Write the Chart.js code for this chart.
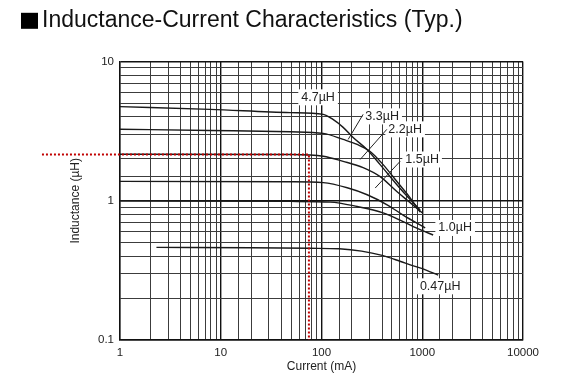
<!DOCTYPE html>
<html>
<head>
<meta charset="utf-8">
<script src="https://cdn.jsdelivr.net/npm/chart.js@4.4.1/dist/chart.umd.min.js"></script>
<style>
  body { margin: 0; background: #fff; }
</style>
</head>
<body>
<canvas id="lcChart" width="562" height="387"></canvas>
<script>
// values (current in mA, inductance in uH)
const curr47 = [1, 7.8, 49, 104, 130, 164, 206, 284, 382, 563, 759, 953];
const ind47 = [4.75, 4.54, 4.3, 4.18, 3.84, 3.37, 2.85, 2.33, 1.82, 1.30, 1.02, 0.86];
const curr33 = [1, 7.8, 49, 104, 164, 226, 304, 409, 563, 759, 953];
const ind33 = [3.27, 3.2, 3.13, 3.05, 2.76, 2.54, 2.26, 1.82, 1.37, 1.05, 0.83];
const curr22 = [1, 49, 104, 164, 259, 382, 563, 759, 997];
const ind22 = [2.16, 2.15, 2.09, 1.92, 1.73, 1.49, 1.16, 0.97, 0.82];
const curr15 = [1, 49, 104, 180, 284, 448, 646, 1069];
const ind15 = [1.38, 1.37, 1.35, 1.24, 1.105, 0.936, 0.79, 0.64];
const curr10 = [1, 49, 122, 226, 409, 646, 953, 1283];
const ind10 = [1.0, 0.99, 0.979, 0.91, 0.819, 0.709, 0.62, 0.568];
const curr047 = [2.3, 20, 77, 150, 250, 400, 600, 800, 1000, 1440];
const ind047 = [0.463, 0.46, 0.456, 0.452, 0.435, 0.405, 0.368, 0.342, 0.326, 0.292];

// red guide (dotted) : operating point
const guideX = [0.168, 75, 75];
const guideY = [2.15, 2.15, 0.1];

// leader lines from labels to curves
const leaderX = [[259, 184], [445, 242], [603, 341]];
const leaderY = [[4.18, 2.76], [3.26, 1.98], [1.92, 1.235]];

// curve labels
const labelText = ['4.7\u00B5H', '3.3\u00B5H', '2.2\u00B5H', '1.5\u00B5H', '1.0\u00B5H', '0.47\u00B5H'];
const labelX = [92.5, 400, 676, 997, 2122, 1506];
const labelY = [5.54, 4.04, 3.26, 1.98, 0.638, 0.243];

const xTickLabels = ['1', '10', '100', '1000', '10000'];
const yTickLabels = ['0.1', '1', '10'];

const FONT = "'Liberation Sans', Arial, sans-serif";

function pts(xs, ys) {
	return xs.map((x, i) => ({ x: x, y: ys[i] }));
}

function curve(xs, ys) {
	return {
		data: pts(xs, ys),
		borderColor: '#1a1a1a',
		borderWidth: 1.4,
		pointRadius: 0,
		cubicInterpolationMode: 'monotone',
		order: 3
	};
}

function tickText(list) {
	return function (value) {
		const hit = list.find(s => Math.abs(Number(s) - value) < 1e-9 * Math.max(1, value));
		return hit === undefined ? '' : hit;
	};
}

const curveLabels = {
	id: 'curveLabels',
	beforeDatasetsDraw(chart) {
		const ctx = chart.ctx;
		const xs = chart.scales.x, ys = chart.scales.y;
		ctx.save();
		ctx.font = '12.5px ' + FONT;
		ctx.textAlign = 'center';
		ctx.textBaseline = 'middle';
		labelText.forEach((t, i) => {
			const px = xs.getPixelForValue(labelX[i]);
			const py = ys.getPixelForValue(labelY[i]);
			const w = ctx.measureText(t).width;
			ctx.fillStyle = '#fff';
			ctx.fillRect(px - w / 2 - 3, py - 8, w + 6, 16);
			ctx.fillStyle = '#222';
			ctx.fillText(t, px, py);
		});
		ctx.restore();
	},
	afterDraw(chart) {
		// black square bullet in front of the title
		const tb = chart.titleBlock;
		const cy = tb.top + 7 + 13.8;
		chart.ctx.save();
		chart.ctx.fillStyle = '#000';
		chart.ctx.fillRect(tb.left - 21, cy - 8, 17, 16);
		chart.ctx.restore();
	}
};

const gridColor = (c) => (c.tick && c.tick.major ? '#111' : '#3c3c3c');
const gridWidth = (c) => (c.tick && c.tick.major ? 1.4 : 1);

const datasets = [
	curve(curr47, ind47),
	curve(curr33, ind33),
	curve(curr22, ind22),
	curve(curr15, ind15),
	curve(curr10, ind10),
	curve(curr047, ind047)
];
leaderX.forEach((lx, i) => {
	datasets.push({
		data: pts(lx, leaderY[i]),
		borderColor: '#222',
		borderWidth: 1,
		pointRadius: 0,
		order: 2
	});
});
datasets.push({
	data: pts(guideX, guideY),
	borderColor: '#c00000',
	borderWidth: 2,
	borderDash: [2, 2],
	pointRadius: 0,
	clip: false,
	order: 1
});

new Chart(document.getElementById('lcChart'), {
	type: 'line',
	data: { datasets: datasets },
	plugins: [curveLabels],
	options: {
		responsive: false,
		animation: false,
		layout: { padding: { left: 42, right: 39, top: 0, bottom: 9 } },
		plugins: {
			legend: { display: false },
			tooltip: { enabled: false },
			title: {
				display: true,
				align: 'start',
				text: 'Inductance-Current Characteristics (Typ.)',
				color: '#111',
				font: { family: FONT, size: 23, weight: 'normal' },
				padding: { top: 7, bottom: 27 }
			}
		},
		scales: {
			x: {
				type: 'logarithmic',
				min: 1,
				max: 10000,
				afterFit: (s) => { s.height = 38; },
				grid: { color: gridColor, lineWidth: gridWidth, drawTicks: false },
				border: { color: '#111', width: 1.4 },
				ticks: {
					autoSkip: false,
					maxRotation: 0,
					padding: 6,
					color: '#222',
					font: { family: FONT, size: 11.5 },
					callback: tickText(xTickLabels)
				},
				title: {
					display: true,
					text: 'Current (mA)',
					color: '#222',
					font: { family: FONT, size: 12 },
					padding: { top: 2, bottom: 4 }
				}
			},
			y: {
				type: 'logarithmic',
				min: 0.1,
				max: 10,
				afterFit: (s) => { s.width = 78; },
				grid: { color: gridColor, lineWidth: gridWidth, drawTicks: false },
				border: { color: '#111', width: 1.4 },
				ticks: {
					autoSkip: false,
					padding: 6,
					color: '#222',
					font: { family: FONT, size: 11.5 },
					callback: tickText(yTickLabels)
				},
				title: {
					display: true,
					text: 'Inductance (\u00B5H)',
					color: '#222',
					font: { family: FONT, size: 12 },
					padding: { top: 26, bottom: 2 }
				}
			}
		}
	}
});
</script>
</body>
</html>
